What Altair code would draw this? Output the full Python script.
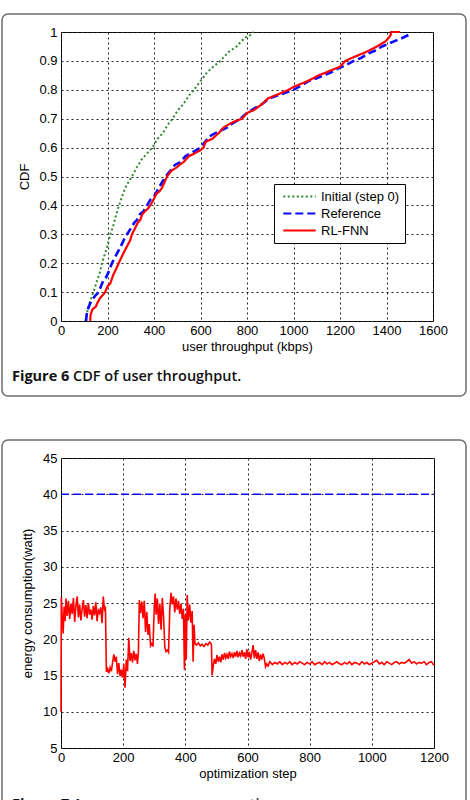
import altair as alt
import pandas as pd

# ---------------- Figure 6: CDF of user throughput ----------------
initial_x = [105, 108, 115, 125, 140, 155, 168, 176, 188, 200, 212, 225, 238, 250,
             262, 276, 290, 305, 325, 348, 370, 393, 415, 438, 460, 480, 503, 526,
             550, 572, 600, 628, 655, 685, 720, 755, 790, 815, 828]
initial_cdf = [0, 0.01, 0.04, 0.07, 0.10, 0.14, 0.17, 0.20, 0.23, 0.26, 0.30, 0.33,
               0.37, 0.40, 0.43, 0.46, 0.48, 0.50, 0.53, 0.56, 0.58, 0.60, 0.63, 0.65,
               0.68, 0.70, 0.73, 0.75, 0.78, 0.80, 0.83, 0.86, 0.88, 0.90, 0.93, 0.95,
               0.98, 0.99, 1.0]

reference_x = [108, 110, 115, 125, 140, 150, 162, 172, 182, 193, 205, 219, 232, 245,
               258, 270, 284, 300, 315, 327, 340, 355, 370, 385, 400, 420, 435, 450,
               470, 490, 513, 535, 555, 580, 600, 620, 640, 664, 690, 715, 740, 771,
               800, 830, 864, 895, 930, 965, 1000, 1035, 1065, 1100, 1130, 1160, 1195,
               1225, 1259, 1290, 1320, 1350, 1381, 1410, 1440, 1470, 1495]
reference_cdf = [0, 0.02, 0.04, 0.06, 0.08, 0.09, 0.10, 0.12, 0.14, 0.15, 0.17, 0.20,
                 0.22, 0.24, 0.26, 0.28, 0.30, 0.32, 0.34, 0.35, 0.37, 0.38, 0.40, 0.42,
                 0.43, 0.46, 0.48, 0.50, 0.52, 0.54, 0.55, 0.57, 0.58, 0.59, 0.60, 0.62,
                 0.64, 0.65, 0.66, 0.67, 0.685, 0.70, 0.72, 0.735, 0.75, 0.77, 0.78, 0.79,
                 0.80, 0.815, 0.83, 0.84, 0.85, 0.86, 0.875, 0.885, 0.90, 0.91, 0.925,
                 0.935, 0.95, 0.96, 0.97, 0.98, 0.99]

rlfnn_x = [126, 127, 135, 150, 155, 168, 180, 190, 200, 212, 225, 237, 248, 260, 272,
           285, 298, 305, 318, 330, 341, 350, 362, 375, 384, 398, 410, 425, 434, 445,
           456, 475, 495, 510, 527, 550, 575, 598, 613, 622, 650, 678, 700, 720, 745,
           778, 800, 830, 864, 890, 920, 950, 979, 1000, 1030, 1060, 1085, 1108, 1140,
           1170, 1200, 1223, 1250, 1280, 1310, 1335, 1359, 1380, 1395, 1410, 1418,
           1420, 1458]
rlfnn_cdf = [0, 0.02, 0.04, 0.05, 0.06, 0.08, 0.09, 0.10, 0.12, 0.13, 0.16, 0.18, 0.20,
             0.22, 0.24, 0.26, 0.28, 0.30, 0.32, 0.34, 0.35, 0.37, 0.38, 0.39, 0.40,
             0.42, 0.44, 0.45, 0.46, 0.48, 0.50, 0.52, 0.53, 0.54, 0.55, 0.57, 0.58,
             0.59, 0.60, 0.62, 0.63, 0.65, 0.67, 0.68, 0.69, 0.70, 0.72, 0.73, 0.75,
             0.77, 0.78, 0.79, 0.80, 0.81, 0.82, 0.83, 0.84, 0.85, 0.86, 0.87, 0.88,
             0.90, 0.91, 0.92, 0.93, 0.94, 0.95, 0.96, 0.967, 0.98, 0.99, 1.0, 1.0]

cdf_series = ["Initial (step 0)", "Reference", "RL-FNN"]
cdf_colors = ["#2f8a2f", "#0a0aff", "#ff0000"]
cdf_dashes = [[2, 2.5], [8, 4], [1, 0]]
throughput_ticks = [0, 200, 400, 600, 800, 1000, 1200, 1400, 1600]
cdf_ticks = [0, 0.1, 0.2, 0.3, 0.4, 0.5, 0.6, 0.7, 0.8, 0.9, 1.0]

# ---------------- Figure 7: energy consumption ----------------
reference_steps = [0, 1200]
reference_watts = [40, 40]

rlfnn_trace = [
    (0, 10.0), (1, 25.8), (4, 23.0), (7, 20.8), (10, 24.5), (13, 22.5), (16, 25.6),
    (20, 23.2), (24, 25.3), (28, 22.8), (32, 24.9), (36, 23.5), (40, 25.7), (44, 22.4),
    (48, 24.6), (52, 25.9), (56, 23.0), (60, 24.8), (64, 22.6), (68, 24.2), (72, 25.4),
    (76, 23.1), (80, 24.7), (84, 22.9), (88, 25.0), (92, 23.4), (96, 24.1), (100, 22.7),
    (104, 24.6), (108, 23.3), (112, 25.1), (116, 22.5), (120, 24.0), (124, 23.6),
    (128, 24.4), (132, 22.2), (136, 25.9), (140, 24.1), (143, 24.3),
    (146, 15.5), (150, 15.9), (154, 15.3), (158, 16.1), (162, 15.6), (166, 16.8),
    (170, 17.9), (174, 16.9), (178, 17.6), (182, 15.2), (186, 16.7), (190, 14.9),
    (194, 15.8), (198, 14.7), (202, 16.6), (206, 13.3), (210, 17.2), (214, 15.6),
    (218, 20.2), (222, 17.0), (226, 18.1), (230, 16.8), (234, 18.4), (238, 17.1),
    (242, 18.0), (246, 16.6), (249, 18.2),
    (252, 25.4), (256, 23.6), (260, 25.2), (264, 22.9), (268, 25.3), (272, 21.0),
    (276, 23.8), (280, 20.6), (284, 22.1), (288, 19.1), (292, 19.4), (296, 19.0),
    (300, 24.5), (303, 26.3), (306, 23.4), (310, 25.6), (314, 22.1), (318, 24.9),
    (322, 21.3), (326, 25.7), (330, 23.0), (334, 18.9), (338, 18.3), (342, 18.5),
    (346, 18.2), (350, 24.2), (354, 26.4), (358, 24.8), (362, 25.9), (366, 23.7),
    (370, 25.6), (374, 24.1), (378, 25.3), (382, 23.5), (386, 24.9), (390, 22.8),
    (394, 24.2), (397, 15.8), (400, 23.4), (403, 17.2), (406, 26.1), (410, 22.6),
    (414, 24.8), (418, 22.3), (422, 23.9), (425, 16.9), (428, 22.0), (431, 19.4),
    (436, 19.2), (442, 19.5), (448, 19.1), (454, 19.3), (460, 19.0), (466, 19.4),
    (472, 19.2), (478, 19.6), (484, 19.3), (486, 15.0), (490, 16.4), (494, 17.3),
    (498, 16.6), (502, 17.8), (506, 16.9), (510, 17.6), (514, 16.8), (518, 17.9),
    (522, 17.2), (526, 18.1), (530, 17.4), (534, 17.9), (538, 17.3), (542, 18.3),
    (546, 17.6), (550, 18.0), (554, 17.4), (558, 18.2), (562, 17.6), (566, 18.4),
    (570, 17.5), (574, 18.1), (578, 17.7), (582, 18.5), (586, 17.6), (590, 18.2),
    (594, 17.3), (598, 18.6), (602, 17.5), (606, 18.3), (610, 17.2), (614, 18.1),
    (618, 19.2), (622, 17.4), (626, 18.5), (630, 17.3), (634, 18.2), (638, 17.0),
    (642, 17.9), (646, 17.2), (650, 18.0), (654, 17.4), (658, 16.2), (662, 16.6),
    (666, 16.3), (672, 16.9), (680, 16.5), (688, 16.8), (696, 16.6), (704, 16.9),
    (712, 16.5), (720, 16.8), (728, 16.6), (736, 16.9), (744, 16.5), (752, 16.8),
    (760, 16.6), (768, 16.9), (776, 16.7), (784, 16.5), (792, 16.8), (800, 16.6),
    (808, 16.9), (816, 16.5), (824, 16.7), (832, 16.8), (840, 16.5), (848, 16.9),
    (856, 16.6), (864, 16.8), (872, 16.5), (880, 16.7), (888, 16.9), (896, 16.6),
    (904, 16.5), (912, 16.8), (920, 16.6), (928, 16.9), (936, 16.5), (944, 16.8),
    (952, 16.7), (960, 16.5), (968, 16.9), (976, 16.6), (984, 16.8), (992, 16.5),
    (1000, 16.7), (1008, 16.9), (1016, 17.1), (1024, 16.6), (1032, 16.8), (1040, 16.5),
    (1048, 16.9), (1056, 16.7), (1064, 16.5), (1072, 16.8), (1080, 16.9), (1088, 16.6),
    (1096, 16.8), (1104, 16.7), (1112, 16.9), (1120, 17.2), (1128, 16.7), (1136, 16.9),
    (1144, 16.6), (1152, 16.8), (1160, 16.7), (1168, 16.9), (1176, 16.5), (1184, 16.8),
    (1192, 16.9), (1200, 16.4),
]

energy_series = ["Reference", "RL-FNN"]
energy_colors = ["#0a0aff", "#ff0000"]
energy_dashes = [[5, 3], [1, 0]]
step_ticks = [0, 200, 400, 600, 800, 1000, 1200]
watt_ticks = [5, 10, 15, 20, 25, 30, 35, 40, 45]

AXIS_FONT = "Liberation Sans"
CAPTION_FONT = "Open Sans"


def cdf_frame(name, xs, ys):
    return pd.DataFrame({"throughput": xs, "cdf": ys, "series": name, "idx": range(len(xs))})


df_initial = cdf_frame(cdf_series[0], initial_x, initial_cdf)
df_reference = cdf_frame(cdf_series[1], reference_x, reference_cdf)
df_rlfnn = cdf_frame(cdf_series[2], rlfnn_x, rlfnn_cdf)

cdf_legend = alt.Legend(
    title=None, orient="none", legendX=213, legendY=152,
    strokeColor="black", fillColor="white", padding=5, cornerRadius=0,
    symbolType="stroke", symbolSize=1050, symbolStrokeWidth=2.2, symbolOffset=3,
    labelOffset=4, labelFont=AXIS_FONT, labelFontSize=13, labelColor="black",
    clipHeight=15, rowPadding=2,
)


def cdf_line(df, width):
    return alt.Chart(df).mark_line(strokeWidth=width).encode(
        x=alt.X("throughput:Q",
                scale=alt.Scale(domain=[0, 1600], nice=False),
                axis=alt.Axis(values=throughput_ticks, format="d",
                              title="user throughput (kbps)")),
        y=alt.Y("cdf:Q",
                scale=alt.Scale(domain=[0, 1], nice=False),
                axis=alt.Axis(values=cdf_ticks, format="~g", title="CDF", titlePadding=7)),
        color=alt.Color("series:N", scale=alt.Scale(domain=cdf_series, range=cdf_colors),
                        legend=cdf_legend),
        strokeDash=alt.StrokeDash("series:N",
                                  scale=alt.Scale(domain=cdf_series, range=cdf_dashes),
                                  legend=cdf_legend),
        order="idx:Q",
    )


def frame_and_caption(label, text, bottom, baseline_y):
    cap = pd.DataFrame({"label": [label], "caption": [text]})
    frame = alt.Chart(cap).mark_rect(
        cornerRadius=6, fill="white", fillOpacity=0, stroke="#6e6e6e", strokeWidth=1.5
    ).encode(x=alt.value(-59), x2=alt.value(405), y=alt.value(-18), y2=alt.value(bottom))
    bold = alt.Chart(cap).mark_text(
        align="left", baseline="alphabetic", font=CAPTION_FONT, fontSize=14.5,
        fontWeight="bold", color="#111111"
    ).encode(x=alt.value(-49), y=alt.value(baseline_y), text="label:N")
    rest = alt.Chart(cap).mark_text(
        align="left", baseline="alphabetic", font=CAPTION_FONT, fontSize=14.5,
        fontWeight=600, color="#111111"
    ).encode(x=alt.value(12), y=alt.value(baseline_y), text="caption:N")
    return frame, bold, rest


frame6, bold6, rest6 = frame_and_caption("Figure 6", "CDF of user throughput.", 364, 349)

fig6 = alt.layer(
    frame6,
    cdf_line(df_initial, 2.0),
    cdf_line(df_reference, 2.6),
    cdf_line(df_rlfnn, 2.2),
    bold6, rest6,
).properties(width=372, height=289)

# ---------------- energy panel ----------------
df_ref_energy = pd.DataFrame({"step": reference_steps, "watt": reference_watts,
                              "method": "Reference"})
df_rl_energy = pd.DataFrame({"step": [s for s, _ in rlfnn_trace],
                             "watt": [w for _, w in rlfnn_trace],
                             "method": "RL-FNN"})

energy_legend = alt.Legend(
    title=None, orient="none", legendX=253, legendY=52,
    strokeColor="black", fillColor="white", padding=5, cornerRadius=0,
    symbolType="stroke", symbolSize=1150, symbolStrokeWidth=1.5, symbolOffset=1,
    labelOffset=4, labelFont=AXIS_FONT, labelFontSize=13.5, labelColor="black",
    clipHeight=15, rowPadding=2,
)


def energy_line(df, width):
    return alt.Chart(df).mark_line(strokeWidth=width).encode(
        x=alt.X("step:Q", scale=alt.Scale(domain=[0, 1200], nice=False),
                axis=alt.Axis(values=step_ticks, format="d", title="optimization step")),
        y=alt.Y("watt:Q", scale=alt.Scale(domain=[5, 45], nice=False),
                axis=alt.Axis(values=watt_ticks, title="energy consumption(watt)",
                              titlePadding=8)),
        color=alt.Color("method:N",
                        scale=alt.Scale(domain=energy_series, range=energy_colors),
                        legend=energy_legend),
        strokeDash=alt.StrokeDash("method:N",
                                  scale=alt.Scale(domain=energy_series, range=energy_dashes),
                                  legend=energy_legend),
        order="step:Q",
    )


frame7, bold7, rest7 = frame_and_caption("Figure 7", "Average energy consumption.", 380, 351)

fig7 = alt.layer(
    frame7,
    energy_line(df_ref_energy, 1.6),
    energy_line(df_rl_energy, 1.6),
    bold7, rest7,
).properties(width=373, height=290)

chart = alt.vconcat(fig6, fig7, spacing=137, bounds="flush").properties(
    padding={"left": 0, "top": 12, "right": 1, "bottom": 1},
    background="white",
).configure_view(
    stroke="black", strokeWidth=1
).configure_axis(
    grid=True, gridColor="#222222", gridDash=[2, 3], gridOpacity=1, gridWidth=1,
    domain=False, ticks=False, labelPadding=4, labelOverlap=False, labelFlush=False,
    labelFont=AXIS_FONT, labelFontSize=13, labelColor="black",
    titleFont=AXIS_FONT, titleFontSize=13, titleFontWeight="normal", titleColor="black",
).configure_axisX(
    labelPadding=3, titlePadding=3,
)

chart.save("out.html", embed_options={"renderer": "svg", "actions": False})
